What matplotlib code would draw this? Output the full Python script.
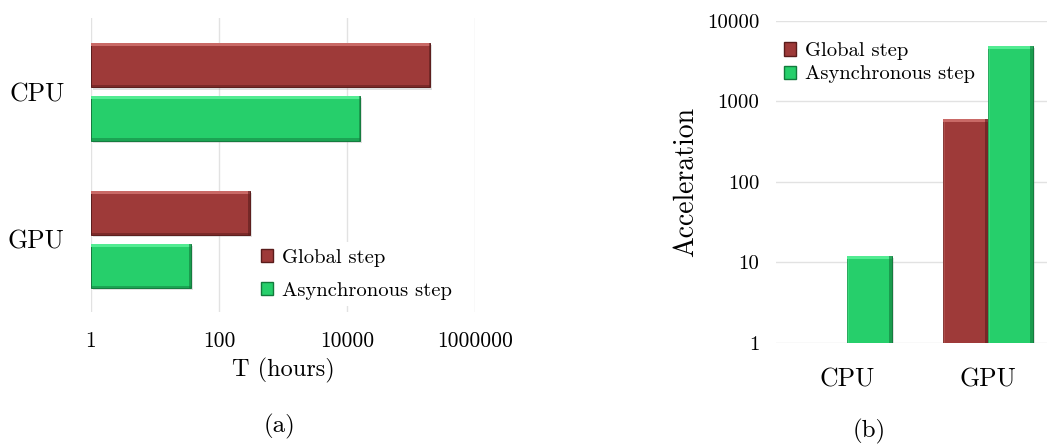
import numpy as np
import matplotlib.pyplot as plt
import matplotlib.patheffects as pe
from matplotlib.patches import Patch

plt.rcParams['font.family'] = ['cmr10', 'DejaVu Serif']
plt.rcParams['axes.formatter.use_mathtext'] = True

# Data
categories = ['CPU', 'GPU']
series_names = ['Global step', 'Asynchronous step']
time_global = [200000, 300]      # hours
time_async = [16000, 36]         # hours
accel_global = [1, 600]
accel_async = [12, 4900]
time_ticks = [1, 100, 10000, 1000000]
time_tick_labels = ['1', '100', '10000', '1000000']
accel_ticks = [1, 10, 100, 1000, 10000]
accel_tick_labels = ['1', '10', '100', '1000', '10000']

red = '#9E3A39'
red_light = '#C96966'
red_dark = '#5A1C1B'
green = '#26CF6B'
green_light = '#52EC92'
green_dark = '#127A3C'
grid_c = '#E2E2E2'

shadow = [pe.SimplePatchShadow(offset=(1.5, -1.5), shadow_rgbFace='#999999', alpha=0.3), pe.Normal()]


def hbar_bevel(ax, y, vals, h, c, cl, cd):
    ax.barh(y, vals, height=h, left=1, color=c, edgecolor=cd, linewidth=0.7,
            path_effects=shadow, zorder=3)
    vals = np.array(vals, dtype=float)
    # light band on top, dark band underneath, dark cap on the right end
    ax.barh(y + h / 2 - 0.01, vals - 1, height=0.02, left=1, color=cl, linewidth=0, zorder=4)
    ax.barh(y - h / 2 + 0.008, vals - 1, height=0.016, left=1, color=cd, alpha=0.5, linewidth=0, zorder=4)
    ax.barh(y, vals - vals / 1.05, height=h, left=vals / 1.05, color=cd, alpha=0.6, linewidth=0, zorder=4)


def vbar_bevel(ax, x, vals, w, c, cl, cd):
    vals = np.array(vals, dtype=float)
    keep = vals > 1
    x = np.array(x)[keep]
    vals = vals[keep]
    ax.bar(x, vals - 1, width=w, bottom=1, color=c, edgecolor=cd, linewidth=0.7,
           path_effects=shadow, zorder=3)
    ax.bar(x, vals - vals / 1.08, width=w, bottom=vals / 1.08, color=cl, linewidth=0, zorder=4)
    ax.bar(x + w / 2 - 0.01, vals - 1, width=0.02, bottom=1, color=cd, alpha=0.6, linewidth=0, zorder=4)
    ax.bar(x - w / 2 + 0.007, vals - 1, width=0.014, bottom=1, color=cl, alpha=0.4, linewidth=0, zorder=4)


fig = plt.figure(figsize=(10.47, 4.47), dpi=100)

# (a) run time, horizontal bars
ax1 = fig.add_axes([0.0869, 0.302, 0.3668, 0.6577])
pos = np.array([1.0, 0.0])
bh = 0.30
off = 0.18
hbar_bevel(ax1, pos + off, time_global, bh, red, red_light, red_dark)
hbar_bevel(ax1, pos - off, time_async, bh, green, green_light, green_dark)
ax1.set_xscale('log')
ax1.set_xlim(1, 1000000)
ax1.set_ylim(-0.49, 1.5)
ax1.set_xticks(time_ticks)
ax1.set_xticklabels(time_tick_labels, fontsize=15.5)
ax1.minorticks_off()
ax1.set_yticks(pos)
ax1.set_yticklabels(categories, fontsize=18.5)
ax1.tick_params(axis='x', length=0, pad=14)
ax1.tick_params(axis='y', length=0, pad=19)
for s in ax1.spines.values():
    s.set_visible(False)
ax1.grid(axis='x', color=grid_c, linewidth=1, zorder=0)
ax1.set_axisbelow(True)
ax1.set_xlabel('T (hours)', fontsize=17.5, labelpad=5)
handles = [Patch(facecolor=red, edgecolor=red_dark), Patch(facecolor=green, edgecolor=green_dark)]
leg1 = ax1.legend(handles, series_names, loc='lower left', bbox_to_anchor=(0.40, -0.015),
                  fontsize=14.8, frameon=True, edgecolor='none', facecolor='white', framealpha=1,
                  handlelength=0.6, handleheight=0.6, handletextpad=0.4, labelspacing=0.75,
                  borderpad=0.3)
leg1.set_zorder(5)
fig.text(0.2665, 0.045, '(a)', ha='center', va='center', fontsize=18)

# (b) acceleration, vertical bars
ax2 = fig.add_axes([0.7412, 0.2327, 0.2703, 0.7204])
xpos = np.array([0.0, 1.0])
bw = 0.317
vbar_bevel(ax2, xpos - bw / 2, accel_global, bw, red, red_light, red_dark)
vbar_bevel(ax2, xpos + bw / 2, accel_async, bw, green, green_light, green_dark)
ax2.set_yscale('log')
ax2.set_ylim(1, 10000)
ax2.set_xlim(-0.5, 1.5)
ax2.set_yticks(accel_ticks)
ax2.set_yticklabels(accel_tick_labels, fontsize=15)
ax2.minorticks_off()
ax2.set_xticks(xpos)
ax2.set_xticklabels(categories, fontsize=18.5)
ax2.tick_params(axis='y', length=0, pad=12)
ax2.tick_params(axis='x', length=0, pad=18)
for s in ax2.spines.values():
    s.set_visible(False)
ax2.grid(axis='y', color=grid_c, linewidth=1, zorder=0)
ax2.set_axisbelow(True)
ax2.set_ylabel('Acceleration', fontsize=20, labelpad=6)
leg2 = ax2.legend(handles, series_names, loc='upper left', bbox_to_anchor=(-0.03, 0.985),
                  fontsize=14.8, frameon=False, handlelength=0.6, handleheight=0.6,
                  handletextpad=0.4, labelspacing=0.25, borderpad=0.3)
fig.text(0.8305, 0.035, '(b)', ha='center', va='center', fontsize=18)

fig.savefig('out.png', dpi=100)
